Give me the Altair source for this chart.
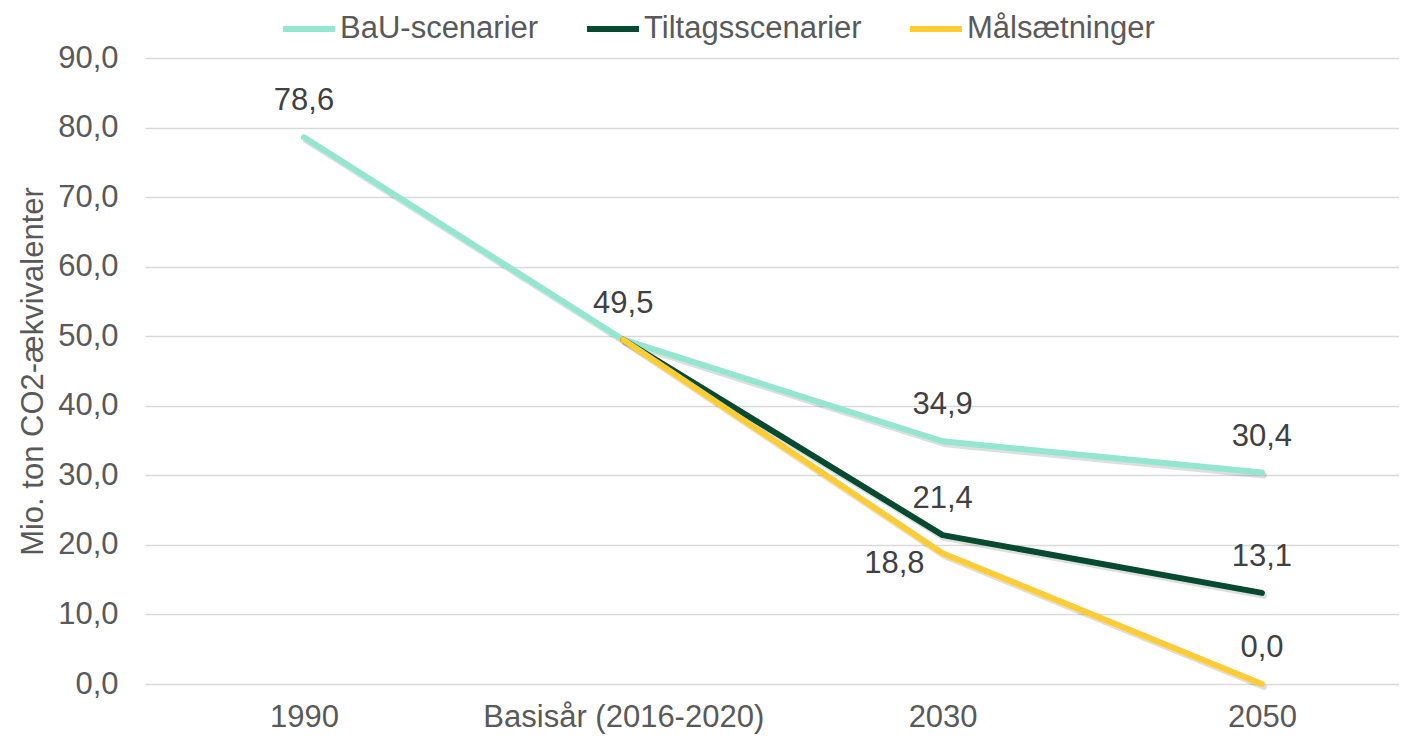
import altair as alt
import pandas as pd

categories = ["1990", "Basisår (2016-2020)", "2030", "2050"]
series_names = ["BaU-scenarier", "Tiltagsscenarier", "Målsætninger"]
bau = [78.6, 49.5, 34.9, 30.4]
tiltag = [None, 49.5, 21.4, 13.1]
maal = [None, 49.5, 18.8, 0.0]
colors = ["#93E6CF", "#064A31", "#FFCC33"]
y_ticks = [0, 10, 20, 30, 40, 50, 60, 70, 80, 90]

rows = []
for name, vals in zip(series_names, [bau, tiltag, maal]):
    for cat, v in zip(categories, vals):
        if v is not None:
            rows.append({"series": name, "cat": cat, "value": v})
df = pd.DataFrame(rows)

FONT = "Liberation Sans"
FS = 31
AXIS_COL = "#595959"
LABEL_COL = "#404040"

x_enc = alt.X(
    "cat:N",
    sort=categories,
    scale=alt.Scale(type="point", padding=0.4635, align=0.537),
    axis=alt.Axis(
        title=None, labelAngle=0, labelFontSize=FS, labelColor=AXIS_COL,
        labelFont=FONT, ticks=False, domain=False, grid=False, labelPadding=18,
        labelLimit=0,
    ),
)
y_enc = alt.Y(
    "value:Q",
    scale=alt.Scale(domain=[0, 90], nice=False),
    axis=alt.Axis(
        title="Mio. ton CO2-ækvivalenter", values=y_ticks,
        labelExpr="replace(format(datum.value, '.1f'), '.', ',')",
        labelFontSize=FS, labelColor=AXIS_COL, labelFont=FONT,
        titleFontSize=FS, titleFontWeight="normal", titleColor=AXIS_COL, titleFont=FONT,
        titlePadding=8, labelPadding=27, ticks=False, domain=False,
        grid=True, gridColor="#D9D9D9", gridWidth=1.5, labelLimit=0,
    ),
)

base = alt.Chart(df).encode(x=x_enc, y=y_enc)

color_scale = alt.Scale(domain=series_names, range=colors)
legend = alt.Legend(
    title=None, orient="none", direction="horizontal", legendX=135, legendY=-58,
    symbolType="stroke", symbolStrokeWidth=6, symbolSize=2704,
    labelFontSize=FS, labelColor=AXIS_COL, labelFont=FONT, labelOffset=2,
    columnPadding=36, padding=0, labelLimit=0,
)

layers = []
for name in series_names:
    layers.append(
        base.transform_filter(alt.datum.series == name)
        .mark_line(strokeWidth=6, strokeCap="round", strokeJoin="round",
                   xOffset=2, yOffset=3, opacity=0.13)
        .encode(color=alt.value("#000000"), detail="series:N")
    )
for name in series_names:
    layers.append(
        base.transform_filter(alt.datum.series == name)
        .mark_line(strokeWidth=6, strokeCap="round", strokeJoin="round")
        .encode(color=alt.Color("series:N", scale=color_scale, legend=legend))
    )

label_expr = "replace(format(datum.value, '.1f'), '.', ',')"
left_cond = (alt.datum.series == "Målsætninger") & (alt.datum.cat == "2030")
dup_cond = (alt.datum.series != "BaU-scenarier") & (alt.datum.cat == "Basisår (2016-2020)")

above = (
    base.transform_filter(~dup_cond)
    .transform_filter(~left_cond)
    .transform_calculate(lbl=label_expr)
    .mark_text(fontSize=FS, font=FONT, color=LABEL_COL, dy=-36, baseline="middle")
    .encode(text="lbl:N")
)
left = (
    base.transform_filter(left_cond)
    .transform_calculate(lbl=label_expr)
    .mark_text(fontSize=FS, font=FONT, color=LABEL_COL, dx=-18, dy=11,
               align="right", baseline="middle")
    .encode(text="lbl:N")
)
layers += [above, left]

chart = (
    alt.layer(*layers)
    .properties(
        width=1254, height=626, autosize="none",
        padding={"left": 137, "top": 50, "right": 0, "bottom": 54},
    )
    .configure(font=FONT)
    .configure_view(stroke=None)
)

chart.save("out.html", embed_options={"renderer": "svg", "actions": False})
